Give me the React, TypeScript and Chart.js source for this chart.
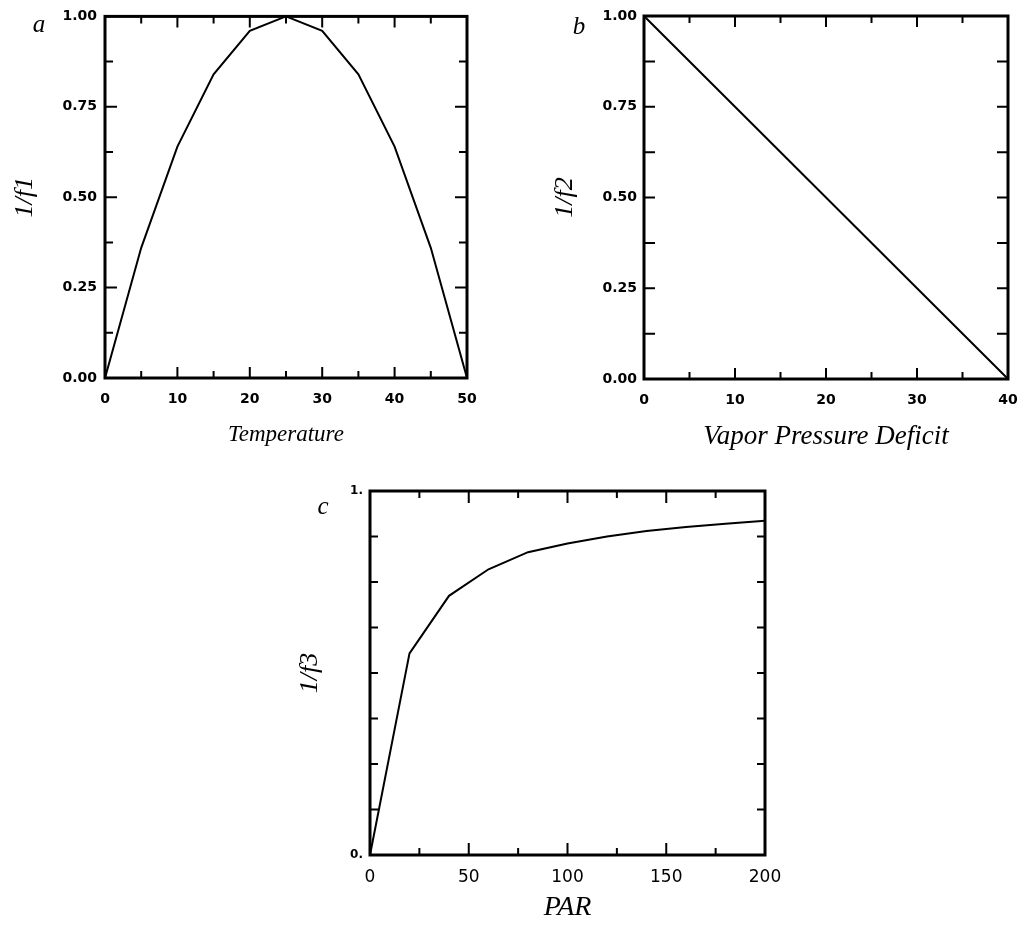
import React, { useEffect, useRef } from "react";
import { Chart, registerables } from "chart.js";

Chart.register(...registerables);

// ---- data ----
const temperature = [0, 5, 10, 15, 20, 25, 30, 35, 40, 45, 50];
const f1Values = [0, 0.36, 0.64, 0.84, 0.96, 1.0, 0.96, 0.84, 0.64, 0.36, 0];

const vpd = [0, 10, 20, 30, 40];
const f2Values = [1.0, 0.75, 0.5, 0.25, 0];

const par = [0, 20, 40, 60, 80, 100, 120, 140, 160, 180, 200];
const f3Values = [0, 0.554, 0.712, 0.785, 0.832, 0.856, 0.875, 0.89, 0.901, 0.91, 0.918];

// ---- tick labels ----
const aXLabels = [0, 10, 20, 30, 40, 50];
const aYValues = [0, 0.25, 0.5, 0.75, 1];
const aYLabels = ["0.00", "0.25", "0.50", "0.75", "1.00"];
const bXLabels = [0, 10, 20, 30, 40];
const bYValues = [0, 0.25, 0.5, 0.75, 1];
const bYLabels = ["0.00", "0.25", "0.50", "0.75", "1.00"];
const cXLabels = [0, 50, 100, 150, 200];
const cYValues = [0, 1];
const cYLabels = ["0.", "1."];

const near = (a: number, b: number) => Math.abs(a - b) < 1e-6;
const isMultiple = (v: number, m: number) => Math.abs(v / m - Math.round(v / m)) < 1e-6;

const framePlugin = {
  id: "frame",
  afterDatasetsDraw(chart: any, _args: any, opts: any) {
    const { ctx, chartArea } = chart;
    const { left, top, right, bottom } = chartArea;
    const xs = chart.scales.x;
    const ys = chart.scales.y;
    ctx.save();
    ctx.strokeStyle = "#000";
    ctx.lineWidth = 2;
    ctx.beginPath();
    for (const t of xs.ticks) {
      if (t.value <= xs.min || t.value >= xs.max) continue;
      const px = xs.getPixelForValue(t.value);
      const len = isMultiple(t.value, opts.xMajor) ? opts.xMajorLen : opts.xMinorLen;
      ctx.moveTo(px, bottom);
      ctx.lineTo(px, bottom - len);
      ctx.moveTo(px, top);
      ctx.lineTo(px, top + len);
    }
    for (const t of ys.ticks) {
      if (t.value <= ys.min || t.value >= ys.max) continue;
      const py = ys.getPixelForValue(t.value);
      const len = isMultiple(t.value, opts.yMajor) ? opts.yMajorLen : opts.yMinorLen;
      ctx.moveTo(left, py);
      ctx.lineTo(left + len, py);
      ctx.moveTo(right, py);
      ctx.lineTo(right - len, py);
    }
    ctx.stroke();
    ctx.lineWidth = 3;
    ctx.strokeRect(left, top, right - left, bottom - top);
    ctx.fillStyle = "#000";
    ctx.font = "italic 25px 'Liberation Serif', serif";
    ctx.textAlign = "center";
    ctx.textBaseline = "middle";
    ctx.fillText(opts.letter, opts.letterX, opts.letterY);
    ctx.restore();
  },
};

type Panel = {
  left: number;
  top: number;
  width: number;
  height: number;
  pad: { top: number; right: number };
  yWidth: number;
  xHeight: number;
  xs: number[];
  ys: number[];
  xMin: number;
  xMax: number;
  xStep: number;
  xMajor: number;
  xLabels: number[];
  yStep: number;
  yMajor: number;
  yValues: number[];
  yLabels: string[];
  xTitle: string;
  yTitle: string;
  xTitleSize: number;
  xTitlePadBottom: number;
  yTitlePadTop: number;
  xTickFont: any;
  xTickPad: number;
  yTickFont: any;
  yTickPad: number;
  letter: string;
  letterX: number;
  letterY: number;
  xMajorLen: number;
  xMinorLen: number;
  yMajorLen: number;
  yMinorLen: number;
};

const boldTick = { family: "'DejaVu Sans', 'Liberation Sans', sans-serif", size: 14, weight: "bold" as const, lineHeight: 1.2 };

const panels: Panel[] = [
  {
    left: 0, top: 0, width: 500, height: 460,
    pad: { top: 14, right: 33 }, yWidth: 105, xHeight: 82,
    xs: temperature, ys: f1Values,
    xMin: 0, xMax: 50, xStep: 5, xMajor: 10, xLabels: aXLabels,
    yStep: 0.125, yMajor: 0.25, yValues: aYValues, yLabels: aYLabels,
    xTitle: "Temperature", yTitle: "1/f1", xTitleSize: 23, xTitlePadBottom: 14, yTitlePadTop: 12,
    xTickFont: boldTick, xTickPad: 13, yTickFont: boldTick, yTickPad: 8,
    letter: "a", letterX: 39, letterY: 25,
    xMajorLen: 11, xMinorLen: 7, yMajorLen: 12, yMinorLen: 8,
  },
  {
    left: 520, top: 0, width: 514, height: 460,
    pad: { top: 16, right: 26 }, yWidth: 124, xHeight: 81,
    xs: vpd, ys: f2Values,
    xMin: 0, xMax: 40, xStep: 5, xMajor: 10, xLabels: bXLabels,
    yStep: 0.125, yMajor: 0.25, yValues: bYValues, yLabels: bYLabels,
    xTitle: "Vapor Pressure Deficit", yTitle: "1/f2", xTitleSize: 27, xTitlePadBottom: 10, yTitlePadTop: 32,
    xTickFont: boldTick, xTickPad: 13, yTickFont: boldTick, yTickPad: 7,
    letter: "b", letterX: 59, letterY: 27,
    xMajorLen: 11, xMinorLen: 7, yMajorLen: 11, yMinorLen: 11,
  },
  {
    left: 280, top: 470, width: 520, height: 458,
    pad: { top: 21, right: 35 }, yWidth: 90, xHeight: 73,
    xs: par, ys: f3Values,
    xMin: 0, xMax: 200, xStep: 25, xMajor: 50, xLabels: cXLabels,
    yStep: 0.125, yMajor: 1, yValues: cYValues, yLabels: cYLabels,
    xTitle: "PAR", yTitle: "1/f3", xTitleSize: 28, xTitlePadBottom: 6, yTitlePadTop: 17,
    xTickFont: { family: "'DejaVu Sans', 'Liberation Sans', sans-serif", size: 17, weight: "normal", lineHeight: 1.2 },
    xTickPad: 12,
    yTickFont: { family: "'DejaVu Sans', 'Liberation Sans', sans-serif", size: 12, weight: "bold", lineHeight: 1.2 },
    yTickPad: 7,
    letter: "c", letterX: 43, letterY: 37,
    xMajorLen: 12, xMinorLen: 7, yMajorLen: 8, yMinorLen: 8,
  },
];

function PanelChart({ p }: { p: Panel }) {
  const ref = useRef<HTMLCanvasElement | null>(null);
  useEffect(() => {
    if (!ref.current) return;
    const titleFont = (size: number) => ({
      family: "'Liberation Serif', 'DejaVu Serif', serif",
      style: "italic" as const,
      size,
      lineHeight: 1,
    });
    const chart = new Chart(ref.current, {
      type: "line",
      data: {
        datasets: [
          {
            data: p.xs.map((x, i) => ({ x, y: p.ys[i] })),
            borderColor: "#000",
            borderWidth: 2,
            pointRadius: 0,
            tension: 0,
            fill: false,
          },
        ],
      },
      options: {
        animation: false,
        responsive: false,
        layout: { padding: { top: p.pad.top, right: p.pad.right, bottom: 0, left: 0 } },
        plugins: {
          legend: { display: false },
          tooltip: { enabled: false },
          frame: {
            letter: p.letter, letterX: p.letterX, letterY: p.letterY,
            xMajor: p.xMajor, yMajor: p.yMajor,
            xMajorLen: p.xMajorLen, xMinorLen: p.xMinorLen,
            yMajorLen: p.yMajorLen, yMinorLen: p.yMinorLen,
          },
        } as any,
        scales: {
          x: {
            type: "linear",
            min: p.xMin,
            max: p.xMax,
            grid: { display: false, drawTicks: false },
            border: { display: false },
            ticks: {
              stepSize: p.xStep,
              autoSkip: false,
              maxRotation: 0,
              color: "#000",
              padding: p.xTickPad,
              font: p.xTickFont,
              callback: (v: any) => {
                const n = Number(v);
                const hit = p.xLabels.find((l) => near(l, n));
                return hit === undefined ? "" : String(hit);
              },
            },
            title: {
              display: true,
              text: p.xTitle,
              color: "#000",
              font: titleFont(p.xTitleSize),
              padding: { top: 0, bottom: p.xTitlePadBottom },
            },
            afterFit: (s: any) => {
              s.height = p.xHeight;
            },
          },
          y: {
            type: "linear",
            min: 0,
            max: 1,
            grid: { display: false, drawTicks: false },
            border: { display: false },
            ticks: {
              stepSize: p.yStep,
              autoSkip: false,
              color: "#000",
              padding: p.yTickPad,
              font: p.yTickFont,
              callback: (v: any) => {
                const n = Number(v);
                const idx = p.yValues.findIndex((l) => near(l, n));
                return idx < 0 ? "" : p.yLabels[idx];
              },
            },
            title: {
              display: true,
              text: p.yTitle,
              color: "#000",
              font: titleFont(26),
              padding: { top: p.yTitlePadTop, bottom: 0 },
            },
            afterFit: (s: any) => {
              s.width = p.yWidth;
            },
          },
        },
      },
      plugins: [framePlugin],
    });
    return () => chart.destroy();
  }, [p]);
  return (
    <div style={{ position: "absolute", left: p.left, top: p.top, width: p.width, height: p.height }}>
      <canvas ref={ref} width={p.width} height={p.height} style={{ display: "block" }} />
    </div>
  );
}

export default function App() {
  return (
    <div style={{ position: "absolute", left: 0, top: 0, width: 1024, height: 928, background: "#fff", overflow: "hidden" }}>
      {panels.map((p, i) => (
        <PanelChart key={i} p={p} />
      ))}
    </div>
  );
}
